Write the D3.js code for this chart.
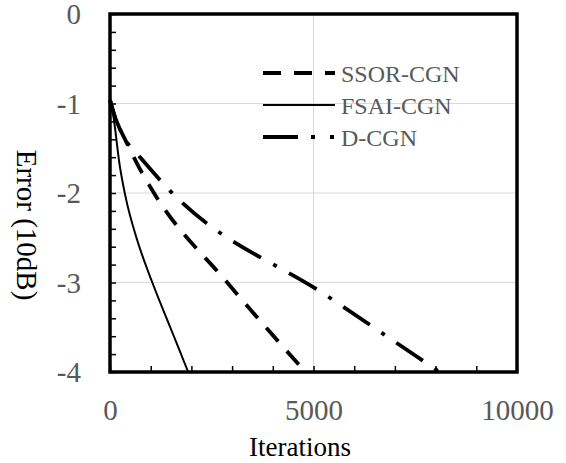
<!DOCTYPE html>
<html>
<head>
<meta charset="utf-8">
<script src="https://cdn.jsdelivr.net/npm/d3@7"></script>
<style>
  body { margin: 0; background: #fff; }
  svg { display: block; }
  svg text { font-family: 'Liberation Serif', 'Times New Roman', 'DejaVu Serif', serif; }
</style>
</head>
<body>
<svg id="chart" width="566" height="463"></svg>
<script>
// series (iterations, error in 10dB)
var ssorIter = [0, 100, 200, 370, 710, 1080, 2880, 4800];
var ssorErr = [-0.96, -1.12, -1.24, -1.40, -1.71, -2.0, -3.0, -4.0];

var fsaiIter = [0, 50, 245, 400, 650, 1040, 1480, 1920];
var fsaiErr = [-0.96, -1.05, -1.71, -2.08, -2.5, -3.0, -3.5, -4.0];

var dcgnIter = [0, 100, 200, 400, 700, 1400, 5400, 8100];
var dcgnErr = [-0.96, -1.12, -1.24, -1.42, -1.58, -1.94, -3.17, -4.0];

var seriesNames = ['SSOR-CGN', 'FSAI-CGN', 'D-CGN'];

var xTicks = [0, 5000, 10000];
var xTickLabels = ['0', '5000', '10000'];
var yTicks = [0, -1, -2, -3, -4];
var yTickLabels = ['0', '-1', '-2', '-3', '-4'];

var svg = d3.select('#chart');

var x = d3.scaleLinear().domain([0, 10000]).range([110, 517]);
var y = d3.scaleLinear().domain([-4, 0]).range([372, 14]);

var gray = '#595959';

// grid lines
svg.append('g').selectAll('line').data([-1, -2, -3]).enter().append('line')
    .attr('x1', x(0)).attr('x2', x(10000))
    .attr('y1', d => y(d)).attr('y2', d => y(d))
    .attr('stroke', '#d9d9d9').attr('stroke-width', 1);
svg.append('g').selectAll('line').data([5000]).enter().append('line')
    .attr('x1', d => x(d)).attr('x2', d => x(d))
    .attr('y1', y(0)).attr('y2', y(-4))
    .attr('stroke', '#d9d9d9').attr('stroke-width', 1);

// minor ticks inside the frame
var yMinor = d3.range(0, 21).map(i => -i * 0.2);
var xMinor = d3.range(0, 11).map(i => i * 1000);

svg.append('g').attr('transform', 'translate(' + x(0) + ',0)')
    .call(d3.axisLeft(y).tickValues(yMinor).tickSize(-6).tickFormat(''))
    .call(g => g.select('.domain').remove())
    .selectAll('line').attr('stroke', '#000').attr('stroke-width', 1.5);

svg.append('g').attr('transform', 'translate(0,' + y(-4) + ')')
    .call(d3.axisBottom(x).tickValues(xMinor).tickSize(-6).tickFormat(''))
    .call(g => g.select('.domain').remove())
    .selectAll('line').attr('stroke', '#000').attr('stroke-width', 1.5);

// tick labels
var yAxis = svg.append('g').attr('transform', 'translate(' + x(0) + ',0)')
    .call(d3.axisLeft(y).tickValues(yTicks).tickSize(0).tickPadding(29)
        .tickFormat((d, i) => yTickLabels[i]));
yAxis.select('.domain').remove();
yAxis.attr('font-family', null);
yAxis.selectAll('text').attr('font-size', 29)
    .attr('fill', gray).attr('dy', '0.34em');

var xAxis = svg.append('g').attr('transform', 'translate(0,' + y(-4) + ')')
    .call(d3.axisBottom(x).tickValues(xTicks).tickSize(0)
        .tickFormat((d, i) => xTickLabels[i]));
xAxis.select('.domain').remove();
xAxis.attr('font-family', null);
xAxis.selectAll('text').attr('font-size', 29)
    .attr('fill', gray).attr('y', 48).attr('dy', null);

// axis titles
svg.append('text').attr('x', 300).attr('y', 456)
    .attr('text-anchor', 'middle').attr('font-size', 27)
    .attr('fill', '#000').text('Iterations');

svg.append('text').attr('transform', 'translate(17,225) rotate(90)')
    .attr('text-anchor', 'middle').attr('font-size', 29)
    .attr('fill', '#000').text('Error (10dB)');

// data lines
var line = d3.line().x(d => x(d[0])).y(d => y(d[1])).curve(d3.curveMonotoneX);

svg.append('path').datum(d3.zip(ssorIter, ssorErr))
    .attr('d', line).attr('fill', 'none').attr('stroke', '#000')
    .attr('stroke-width', 3.8).attr('stroke-dasharray', '18,13');

svg.append('path').datum(d3.zip(fsaiIter, fsaiErr))
    .attr('d', line).attr('fill', 'none').attr('stroke', '#000')
    .attr('stroke-width', 2);

svg.append('path').datum(d3.zip(dcgnIter, dcgnErr))
    .attr('d', line).attr('fill', 'none').attr('stroke', '#000')
    .attr('stroke-width', 3.8).attr('stroke-dasharray', '32,14,4,14');

// frame
svg.append('rect').attr('x', x(0)).attr('y', y(0))
    .attr('width', x(10000) - x(0)).attr('height', y(-4) - y(0))
    .attr('fill', 'none').attr('stroke', '#000').attr('stroke-width', 3.5);

// legend
var legDash = ['18,13', null, '35,13,4,15,4,20'];
var legWidth = [3.8, 2, 3.8];
var leg = svg.append('g').selectAll('g').data(seriesNames).enter().append('g')
    .attr('transform', (d, i) => 'translate(0,' + (73 + i * 32) + ')');
leg.append('line').attr('x1', 263).attr('x2', 335).attr('y1', 0).attr('y2', 0)
    .attr('stroke', '#000').attr('stroke-width', (d, i) => legWidth[i])
    .attr('stroke-dasharray', (d, i) => legDash[i]);
leg.append('text').attr('x', 341).attr('y', 9)
    .attr('font-size', 24).attr('fill', gray)
    .text(d => d);
</script>
</body>
</html>
